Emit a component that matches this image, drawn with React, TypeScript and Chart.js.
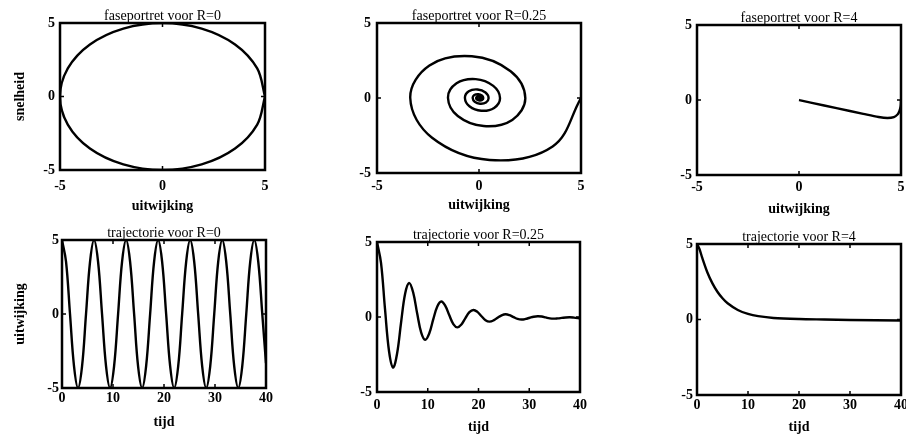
import React, { useEffect, useRef } from "react";
import { Chart, registerables } from "chart.js";

Chart.register(...registerables);

const FONT = "'Liberation Serif', 'Times New Roman', serif";

const phaseTicks = [-5, 0, 5];
const timeTicks = [0, 10, 20, 30, 40];
const valueTicks = [-5, 0, 5];

// R = 0: phase portrait (uitwijking, snelheid)
const r0PhaseX = [5, 4.62, 3.54, 1.91, 0, -1.91, -3.54, -4.62, -5, -4.62, -3.54, -1.91, 0, 1.91, 3.54, 4.62, 5];
const r0PhaseV = [0, -1.91, -3.54, -4.62, -5, -4.62, -3.54, -1.91, 0, 1.91, 3.54, 4.62, 5, 4.62, 3.54, 1.91, 0];

// R = 0.25: phase portrait
const r025PhaseX = [5, 3.61, 0.52, -2.3, -3.37, -2.43, -0.35, 1.55, 2.27, 1.63, 0.23, -1.04, -1.52, -1.1, -0.16, 0.7, 1.03, 0.74, 0.11, -0.47, -0.69, -0.5, -0.07, 0.32, 0.47, 0.34, 0.05, -0.21, -0.31, -0.23, -0.03, 0.14, 0.21, 0.15, 0.02, -0.1, -0.14, -0.1, -0.01, 0.065, 0.095, 0.07, 0.01, -0.044, -0.064, -0.046, -0.007, 0.03, 0.043, 0.031, 0.004];
const r025PhaseV = [0, -3.23, -4.13, -2.65, 0, 2.17, 2.78, 1.78, 0, -1.46, -1.87, -1.2, 0, 0.98, 1.26, 0.81, 0, -0.66, -0.85, -0.55, 0, 0.45, 0.57, 0.37, 0, -0.3, -0.38, -0.25, 0, 0.2, 0.26, 0.17, 0, -0.14, -0.17, -0.11, 0, 0.09, 0.12, 0.075, 0, -0.06, -0.08, -0.05, 0, 0.04, 0.05, 0.034, 0, -0.028, -0.036];

// R = 4: phase portrait
const r4PhaseX = [5, 4.994, 4.978, 4.92, 4.84, 4.65, 4.33, 3.9, 3.15, 1.84, 0.63, 0.07, 0];
const r4PhaseV = [0, -0.25, -0.45, -0.75, -0.95, -1.14, -1.2, -1.13, -0.92, -0.54, -0.19, -0.02, 0];

// R = 0: trajectory (tijd, uitwijking)
const r0Time = [0, 0.79, 1.57, 2.36, 3.14, 3.93, 4.71, 5.5, 6.28, 7.07, 7.85, 8.64, 9.42, 10.21, 11.0, 11.78, 12.57, 13.35, 14.14, 14.92, 15.71, 16.49, 17.28, 18.06, 18.85, 19.63, 20.42, 21.21, 21.99, 22.78, 23.56, 24.35, 25.13, 25.92, 26.7, 27.49, 28.27, 29.06, 29.85, 30.63, 31.42, 32.2, 32.99, 33.77, 34.56, 35.34, 36.13, 36.91, 37.7, 38.48, 39.27, 40];
const r0Pos = [5, 3.54, 0, -3.54, -5, -3.54, 0, 3.54, 5, 3.54, 0, -3.54, -5, -3.54, 0, 3.54, 5, 3.54, 0, -3.54, -5, -3.54, 0, 3.54, 5, 3.54, 0, -3.54, -5, -3.54, 0, 3.54, 5, 3.54, 0, -3.54, -5, -3.54, 0, 3.54, 5, 3.54, 0, -3.54, -5, -3.54, 0, 3.54, 5, 3.54, 0, -3.33];

// R = 0.25: trajectory
const r025Time = [0, 0.79, 1.58, 2.38, 3.17, 3.96, 4.75, 5.54, 6.33, 7.13, 7.92, 8.71, 9.5, 10.29, 11.08, 11.88, 12.67, 13.46, 14.25, 15.04, 15.83, 16.63, 17.42, 18.21, 19.0, 19.79, 20.59, 21.38, 22.17, 22.96, 23.75, 24.55, 25.34, 26.13, 26.92, 27.71, 28.5, 29.29, 30.09, 30.88, 31.67, 32.46, 33.25, 34.05, 34.84, 35.63, 36.42, 37.21, 38.0, 38.8, 39.59, 40];
const r025Pos = [5, 3.61, 0.52, -2.3, -3.37, -2.43, -0.35, 1.55, 2.27, 1.63, 0.23, -1.04, -1.52, -1.1, -0.16, 0.7, 1.03, 0.74, 0.11, -0.47, -0.69, -0.5, -0.07, 0.32, 0.47, 0.34, 0.05, -0.21, -0.31, -0.23, -0.05, 0.11, 0.18, 0.12, -0.01, -0.13, -0.17, -0.13, -0.05, 0.02, 0.05, 0.03, -0.03, -0.09, -0.11, -0.09, -0.06, -0.03, -0.02, -0.04, -0.07, -0.09];

// R = 4: trajectory
const r4Time = [0, 0.5, 1, 2, 3, 4, 5, 6, 8, 10, 12, 15, 20, 25, 30, 40];
const r4Pos = [5, 4.65, 4.11, 3.15, 2.41, 1.84, 1.41, 1.08, 0.63, 0.37, 0.22, 0.1, 0.03, 0, -0.03, -0.07];

type PanelCfg = {
  key: string;
  title: string;
  box: [number, number, number, number];
  L: number;
  yTitle?: string;
  xTitle: string;
  xTicks: number[];
  xs: number[];
  ys: number[];
  tension: number;
  xTickPad: number;
  xTitleOff: number;
  yTickPad: number;
};

const panels: PanelCfg[] = [
  { key: "p1", title: "faseportret voor R=0", box: [60, 23, 265, 170], L: 60, yTitle: "snelheid", xTitle: "uitwijking", xTicks: phaseTicks, xs: r0PhaseX, ys: r0PhaseV, tension: 0.34, xTickPad: 7.5, xTitleOff: 36, yTickPad: 5 },
  { key: "p2", title: "faseportret voor R=0.25", box: [377, 23, 581, 173], L: 30, xTitle: "uitwijking", xTicks: phaseTicks, xs: r025PhaseX, ys: r025PhaseV, tension: 0.38, xTickPad: 4.6, xTitleOff: 32, yTickPad: 6 },
  { key: "p3", title: "faseportret voor R=4", box: [697, 25, 901, 175], L: 30, xTitle: "uitwijking", xTicks: phaseTicks, xs: r4PhaseX, ys: r4PhaseV, tension: 0.3, xTickPad: 4, xTitleOff: 34, yTickPad: 5 },
  { key: "p4", title: "trajectorie voor R=0", box: [62, 240, 266, 388], L: 62, yTitle: "uitwijking", xTitle: "tijd", xTicks: timeTicks, xs: r0Time, ys: r0Pos, tension: 0.38, xTickPad: 1.6, xTitleOff: 34, yTickPad: 3 },
  { key: "p5", title: "trajectorie voor R=0.25", box: [377, 242, 580, 392], L: 30, xTitle: "tijd", xTicks: timeTicks, xs: r025Time, ys: r025Pos, tension: 0.38, xTickPad: 4.6, xTitleOff: 35, yTickPad: 5 },
  { key: "p6", title: "trajectorie voor R=4", box: [697, 244, 901, 395], L: 30, xTitle: "tijd", xTicks: timeTicks, xs: r4Time, ys: r4Pos, tension: 0.3, xTickPad: 1.6, xTitleOff: 32, yTickPad: 4 },
];

const TOP = 20;
const BOTTOM = 46;
const RIGHT = 16;
const TITLE_SIZE = 14;

const boxPlugin = {
  id: "matlabBox",
  afterDraw(chart: any) {
    const { ctx, chartArea } = chart;
    const { left, top, right, bottom } = chartArea;
    ctx.save();
    ctx.strokeStyle = "#000";
    ctx.lineWidth = 2.5;
    ctx.strokeRect(left, top, right - left, bottom - top);
    ctx.lineWidth = 1.5;
    const xs = chart.scales.x;
    const ys = chart.scales.y;
    ctx.beginPath();
    xs.ticks.forEach((t: any) => {
      const p = xs.getPixelForValue(t.value);
      ctx.moveTo(p, bottom);
      ctx.lineTo(p, bottom - 4);
      ctx.moveTo(p, top);
      ctx.lineTo(p, top + 4);
    });
    ys.ticks.forEach((t: any) => {
      const p = ys.getPixelForValue(t.value);
      ctx.moveTo(left, p);
      ctx.lineTo(left + 4, p);
      ctx.moveTo(right, p);
      ctx.lineTo(right - 4, p);
    });
    ctx.stroke();
    ctx.restore();
  },
};

function Panel({ cfg }: { cfg: PanelCfg }) {
  const ref = useRef<HTMLCanvasElement>(null);
  const [l, t, r, b] = cfg.box;
  const w = r - l + cfg.L + RIGHT;
  const h = b - t + TOP + BOTTOM;

  useEffect(() => {
    if (!ref.current) return;
    const pts = cfg.xs.map((x, i) => ({ x, y: cfg.ys[i] }));
    const tickFont = { family: FONT, size: 14, weight: "bold" as const, lineHeight: 1.2 };
    const titleLH = TITLE_SIZE * 1.2;
    const chart = new Chart(ref.current, {
      type: "scatter",
      data: {
        datasets: [
          {
            data: pts,
            showLine: true,
            borderColor: "#000",
            backgroundColor: "#000",
            borderWidth: 2.4,
            pointRadius: 0,
            tension: cfg.tension,
            fill: false,
          },
        ],
      },
      options: {
        animation: false,
        responsive: false,
        maintainAspectRatio: false,
        layout: { padding: { left: 0, right: RIGHT, top: 0, bottom: 0 } },
        plugins: {
          legend: { display: false },
          tooltip: { enabled: false },
          title: {
            display: true,
            text: cfg.title,
            fullSize: false,
            color: "#000",
            font: { family: FONT, size: TITLE_SIZE, weight: "normal", lineHeight: 1.2 },
            padding: { top: TOP - titleLH + 2, bottom: -2 },
          },
        },
        scales: {
          x: {
            type: "linear",
            min: cfg.xTicks[0],
            max: cfg.xTicks[cfg.xTicks.length - 1],
            afterBuildTicks: (s: any) => {
              s.ticks = cfg.xTicks.map((v) => ({ value: v }));
            },
            afterFit: (s: any) => {
              s.height = BOTTOM;
            },
            ticks: { color: "#000", font: tickFont, padding: cfg.xTickPad, maxRotation: 0, autoSkip: false },
            grid: { display: false, drawTicks: false },
            border: { display: false },
            title: {
              display: true,
              text: cfg.xTitle,
              color: "#000",
              font: tickFont,
              padding: { top: 0, bottom: 37.6 - cfg.xTitleOff },
            },
          },
          y: {
            type: "linear",
            min: -5,
            max: 5,
            afterBuildTicks: (s: any) => {
              s.ticks = valueTicks.map((v) => ({ value: v }));
            },
            afterFit: (s: any) => {
              s.width = cfg.L;
            },
            ticks: { color: "#000", font: tickFont, padding: cfg.yTickPad, autoSkip: false },
            grid: { display: false, drawTicks: false },
            border: { display: false },
            title: {
              display: !!cfg.yTitle,
              text: cfg.yTitle || "",
              color: "#000",
              font: tickFont,
              padding: { top: 11.6, bottom: 0 },
            },
          },
        },
      },
      plugins: [boxPlugin],
    } as any);
    return () => chart.destroy();
  }, []);

  return (
    <canvas
      ref={ref}
      width={w}
      height={h}
      style={{ position: "absolute", left: l - cfg.L, top: t - TOP, width: w, height: h }}
    />
  );
}

export default function App() {
  return (
    <div
      style={{
        position: "absolute",
        left: 0,
        top: 0,
        width: 906,
        height: 435,
        overflow: "hidden",
        background: "#fff",
      }}
    >
      {panels.map((p) => (
        <Panel key={p.key} cfg={p} />
      ))}
    </div>
  );
}
